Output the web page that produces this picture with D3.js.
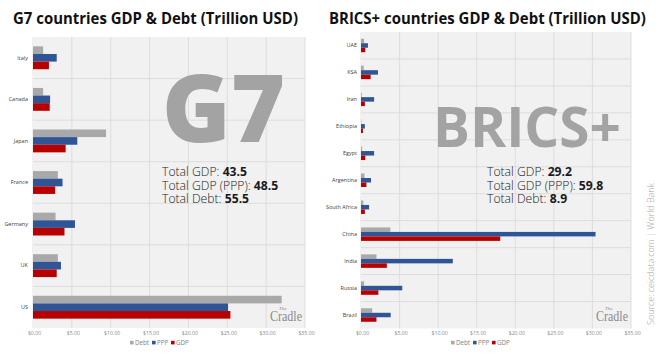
<!DOCTYPE html>
<html>
<head>
<meta charset="utf-8">
<script src="https://cdn.jsdelivr.net/npm/d3@7"></script>
<style>
  html, body { margin: 0; padding: 0; background: #fff; }
  svg { display: block; font-family: 'Open Sans', 'Noto Sans', sans-serif; }
</style>
</head>
<body>
<svg id="chart" width="666" height="361"></svg>
<script>
// series order in the legend
const seriesNames = ['Debt', 'PPP', 'GDP'];
const seriesColors = ['#a9a9a9', '#2f5597', '#b80000'];

const g7Countries = ['Italy', 'Canada', 'Japan', 'France', 'Germany', 'UK', 'US'];
const g7Debt = [1.3, 1.3, 9.4, 3.2, 2.9, 3.2, 32.0];
const g7Ppp = [3.05, 2.2, 5.7, 3.8, 5.4, 3.6, 25.1];
const g7Gdp = [2.05, 2.15, 4.2, 2.85, 4.05, 3.05, 25.4];
const g7Totals = [['Total GDP: ', '43.5'], ['Total GDP (PPP): ', '48.5'], ['Total Debt: ', '55.5']];

const bricsCountries = ['UAE', 'KSA', 'Iran', 'Ethiopia', 'Egypt', 'Argentina', 'South Africa', 'China', 'India', 'Russia', 'Brazil'];
const bricsDebt = [0.4, 0.35, 0.1, 0.05, 0.15, 0.45, 0.3, 3.8, 2.0, 0.4, 1.45];
const bricsPpp = [0.9, 2.2, 1.7, 0.5, 1.7, 1.3, 1.05, 30.4, 11.9, 5.35, 3.85];
const bricsGdp = [0.55, 1.25, 0.5, 0.25, 0.55, 0.7, 0.5, 18.05, 3.35, 2.25, 2.0];
const bricsTotals = [['Total GDP: ', '29.2'], ['Total GDP (PPP): ', '59.8'], ['Total Debt: ', '8.9']];

const xTicks = [0, 5, 10, 15, 20, 25, 30, 35];

const svg = d3.select('#chart');

// squeeze a text horizontally so it fills the given width
function fitWidth(parent, x, y, width, build) {
  const holder = parent.append('g');
  const txt = build(holder.append('text'));
  const natural = txt.node().getComputedTextLength();
  const k = natural > 0 ? width / natural : 1;
  holder.attr('transform', 'translate(' + x + ',' + y + ') scale(' + k + ',1)');
  return txt;
}

function drawPanel(cfg) {
  const g = svg.append('g');

  const x = d3.scaleLinear().domain([0, 35]).range([cfg.x0, cfg.x1]);
  const y = d3.scaleBand()
    .domain(cfg.countries)
    .range([cfg.y0, cfg.y1])
    .paddingInner(cfg.pad)
    .paddingOuter(cfg.pad / 2);
  const ySeries = d3.scaleBand().domain(seriesNames).range([0, y.bandwidth()]);

  // title
  fitWidth(g, cfg.titleX, 24, cfg.titleW, (t) => t
    .attr('font-size', 15.5)
    .attr('font-weight', 700)
    .attr('fill', '#111')
    .text(cfg.title));

  // plot background
  g.append('rect')
    .attr('x', cfg.x0 - 1)
    .attr('y', cfg.y0)
    .attr('width', cfg.x1 - cfg.x0 + 1)
    .attr('height', cfg.y1 - cfg.y0)
    .attr('fill', '#f1f1f1');

  // vertical grid
  g.append('g')
    .selectAll('line')
    .data(xTicks.slice(1))
    .join('line')
    .attr('x1', (d) => x(d))
    .attr('x2', (d) => x(d))
    .attr('y1', cfg.y0)
    .attr('y2', cfg.y1)
    .attr('stroke', '#d8d8d8')
    .attr('stroke-width', 0.8);

  // horizontal band separators
  const step = y.step();
  g.append('g')
    .selectAll('line')
    .data(d3.range(1, cfg.countries.length))
    .join('line')
    .attr('x1', cfg.x0)
    .attr('x2', cfg.x1)
    .attr('y1', (i) => cfg.y0 + i * step)
    .attr('y2', (i) => cfg.y0 + i * step)
    .attr('stroke', '#d8d8d8')
    .attr('stroke-width', 0.8);

  // watermark
  fitWidth(g, cfg.markX, cfg.markY, cfg.markW, (t) => t
    .attr('font-size', cfg.markSize)
    .attr('font-weight', cfg.markWeight)
    .attr('fill', '#a3a3a3')
    .text(cfg.mark));

  // totals
  const tot = g.append('g');
  cfg.totals.forEach((t, i) => {
    const txt = tot.append('text')
      .attr('x', cfg.totX)
      .attr('y', cfg.totY + i * 13.5)
      .attr('font-size', 12.2)
      .attr('fill', '#1a1a1a');
    txt.append('tspan').attr('font-weight', 300).text(t[0]);
    txt.append('tspan').attr('font-weight', 700).text(t[1]);
  });

  // bars
  const rows = cfg.countries.map((c, i) => ({
    country: c,
    values: [cfg.debt[i], cfg.ppp[i], cfg.gdp[i]],
  }));
  const rowG = g.append('g')
    .selectAll('g')
    .data(rows)
    .join('g')
    .attr('transform', (d) => 'translate(0,' + y(d.country) + ')');
  rowG.selectAll('rect')
    .data((d) => d.values.map((v, k) => ({ key: seriesNames[k], value: v, color: seriesColors[k] })))
    .join('rect')
    .attr('x', x(0))
    .attr('y', (d) => ySeries(d.key))
    .attr('width', (d) => x(d.value) - x(0))
    .attr('height', ySeries.bandwidth())
    .attr('fill', (d) => d.color);

  // category labels
  g.append('g')
    .selectAll('text')
    .data(cfg.countries)
    .join('text')
    .attr('x', cfg.labelX)
    .attr('y', (d) => y(d) + y.bandwidth() / 2 + 1.8)
    .attr('text-anchor', 'end')
    .attr('font-size', 5.5)
    .attr('fill', '#404040')
    .text((d) => d);

  // x axis tick labels
  const axis = d3.axisBottom(x)
    .tickValues(xTicks)
    .tickSize(0)
    .tickPadding(0)
    .tickFormat((d) => '$' + d3.format('.2f')(d));
  const ax = g.append('g')
    .attr('transform', 'translate(1,' + 331 + ')')
    .call(axis);
  ax.select('.domain').remove();
  ax.selectAll('text')
    .attr('font-size', 5.2)
    .attr('fill', '#8a8a8a')
    .attr('font-family', "'Open Sans', sans-serif");

  // legend
  const lg = g.append('g').attr('transform', 'translate(' + cfg.legendX + ',344)');
  let lx = 0;
  seriesNames.forEach((name, k) => {
    lg.append('rect')
      .attr('x', lx)
      .attr('y', -3.2)
      .attr('width', 3.6)
      .attr('height', 3.6)
      .attr('fill', seriesColors[k]);
    lg.append('text')
      .attr('x', lx + 5)
      .attr('y', 1.2)
      .attr('font-size', 6.2)
      .attr('fill', '#7f7f7f')
      .text(name);
    lx += [22, 19, 0][k];
  });

  // logo: one text element, small "The" sits above "Cradle"
  const logo = g.append('text')
    .attr('font-family', "'Liberation Serif', 'DejaVu Serif', serif")
    .attr('fill', '#8a8a8a');
  logo.append('tspan')
    .attr('x', cfg.logoX)
    .attr('y', 321)
    .attr('font-size', 15)
    .attr('textLength', 32)
    .attr('lengthAdjust', 'spacingAndGlyphs')
    .text('Cradle');
  logo.append('tspan')
    .attr('x', cfg.logoX + 9)
    .attr('y', 310)
    .attr('font-size', 5)
    .attr('font-style', 'italic')
    .text('The');
}

drawPanel({
  title: 'G7 countries GDP & Debt (Trillion USD)',
  titleX: 13, titleW: 285,
  countries: g7Countries, debt: g7Debt, ppp: g7Ppp, gdp: g7Gdp,
  totals: g7Totals, totX: 162, totY: 176,
  x0: 33, x1: 305, y0: 37, y1: 328, pad: 0.45,
  labelX: 28, legendX: 130, logoX: 270,
  mark: 'G7', markX: 162, markY: 142, markSize: 94, markW: 123, markWeight: 800,
});

drawPanel({
  title: 'BRICS+ countries GDP & Debt (Trillion USD)',
  titleX: 329, titleW: 317,
  countries: bricsCountries, debt: bricsDebt, ppp: bricsPpp, gdp: bricsGdp,
  totals: bricsTotals, totX: 487, totY: 176,
  x0: 361, x1: 631, y0: 32, y1: 328.5, pad: 0.5,
  labelX: 357, legendX: 451, logoX: 596,
  mark: 'BRICS+', markX: 433, markY: 147, markSize: 56, markW: 188, markWeight: 700,
});

// source note
svg.append('text')
  .attr('transform', 'translate(654,254) rotate(-90)')
  .attr('text-anchor', 'middle')
  .attr('font-size', 9)
  .attr('font-weight', 300)
  .attr('fill', '#a8a8a8')
  .text('Source: ceicdata.com | World Bank');
</script>
</body>
</html>
